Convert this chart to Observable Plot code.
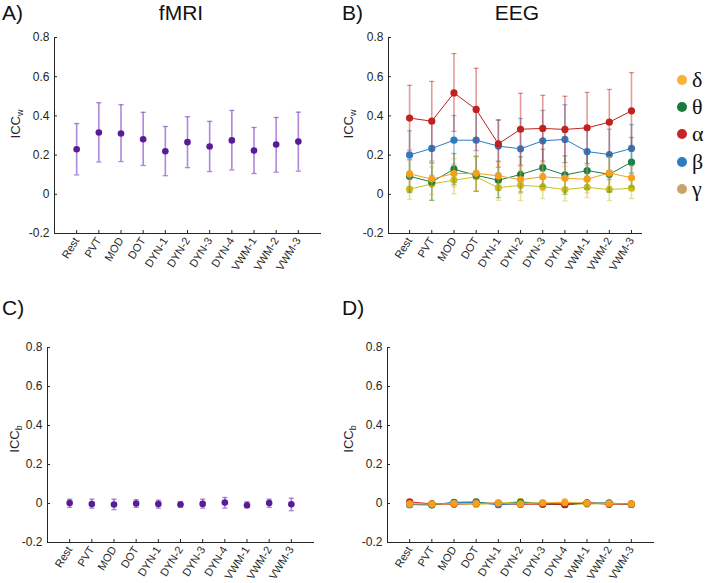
<!DOCTYPE html>
<html><head><meta charset="utf-8">
<script src="https://cdn.jsdelivr.net/npm/d3@7"></script>
<script src="https://cdn.jsdelivr.net/npm/@observablehq/plot@0.6"></script>
<style>
body{margin:0;background:#fff;font-family:"Liberation Sans",Arial,sans-serif;}
#root{position:relative;width:708px;height:583px;overflow:hidden;background:#fff}
#root svg{position:absolute}
.leg{position:absolute;left:0;top:0;}
.li{position:absolute;display:flex;align-items:center;height:26px}
.sw{width:10px;height:10px;border-radius:50%;margin-right:5px}
.gl{font-family:"Liberation Serif","DejaVu Serif",serif;font-size:22px;color:#111;line-height:1}
</style></head>
<body><div id="root"></div>
<script>
const tasks = ["Rest","PVT","MOD","DOT","DYN-1","DYN-2","DYN-3","DYN-4","VWM-1","VWM-2","VWM-3"];
const yTicks = [-0.2,0,0.2,0.4,0.6,0.8];

// A) fMRI ICC_w
const fmriW   = [0.230,0.315,0.310,0.281,0.220,0.266,0.244,0.275,0.223,0.254,0.269];
const fmriWLo = [0.099,0.165,0.167,0.147,0.095,0.136,0.116,0.124,0.106,0.113,0.118];
const fmriWHi = [0.361,0.467,0.457,0.418,0.346,0.396,0.372,0.428,0.341,0.392,0.419];

// B) EEG ICC_w
const eegWAlpha   = [0.389,0.373,0.517,0.433,0.257,0.332,0.336,0.331,0.339,0.368,0.426];
const eegWAlphaLo = [0.225,0.169,0.321,0.223,0.138,0.148,0.169,0.162,0.157,0.199,0.232];
const eegWAlphaHi = [0.556,0.576,0.718,0.643,0.380,0.515,0.505,0.500,0.520,0.535,0.621];
const eegWBeta    = [0.201,0.234,0.276,0.276,0.246,0.232,0.273,0.280,0.218,0.203,0.234];
const eegWBetaLo  = [0.080,0.097,0.148,0.119,0.109,0.078,0.118,0.102,0.092,0.075,0.109];
const eegWBetaHi  = [0.324,0.370,0.402,0.433,0.378,0.387,0.428,0.457,0.344,0.332,0.356];
const eegWTheta   = [0.092,0.063,0.128,0.097,0.072,0.101,0.136,0.099,0.121,0.102,0.164];
const eegWThetaLo = [0.009,-0.031,0.049,0.015,-0.017,0.012,0.041,0.000,0.029,0.012,0.038];
const eegWThetaHi = [0.177,0.160,0.208,0.194,0.169,0.191,0.230,0.196,0.211,0.194,0.290];
const eegWDelta   = [0.104,0.078,0.106,0.107,0.094,0.075,0.089,0.082,0.077,0.109,0.084];
const eegWDeltaLo = [0.030,0.000,0.038,0.017,0.024,0.005,0.019,0.022,0.007,0.040,0.024];
const eegWDeltaHi = [0.175,0.158,0.182,0.194,0.164,0.145,0.159,0.142,0.147,0.190,0.144];
const eegWGamma   = [0.026,0.053,0.072,0.089,0.034,0.046,0.039,0.024,0.036,0.024,0.031];
const eegWGammaLo = [-0.026,-0.031,0.003,0.015,-0.031,-0.032,-0.022,-0.034,-0.017,-0.032,-0.022];
const eegWGammaHi = [0.106,0.140,0.157,0.190,0.106,0.120,0.106,0.089,0.106,0.089,0.106];

// C) fMRI ICC_b
const fmriB   = [0.002,-0.003,-0.005,0.000,-0.003,-0.005,-0.002,0.005,-0.009,0.002,-0.004];
const fmriBLo = [-0.020,-0.024,-0.032,-0.020,-0.024,-0.019,-0.024,-0.024,-0.022,-0.020,-0.037];
const fmriBHi = [0.022,0.022,0.022,0.019,0.017,0.010,0.022,0.031,0.009,0.022,0.027];

// D) EEG ICC_b
const eegBAlpha   = [0.008,-0.002,-0.003,0.000,0.002,-0.004,-0.003,-0.005,0.003,-0.004,-0.002];
const eegBAlphaLo = [-0.004,-0.012,-0.013,-0.010,-0.008,-0.014,-0.013,-0.016,-0.007,-0.014,-0.011];
const eegBAlphaHi = [0.020,0.008,0.007,0.010,0.012,0.006,0.007,0.006,0.013,0.006,0.007];
const eegBBeta    = [-0.006,-0.004,0.004,0.005,-0.006,-0.002,0.002,-0.003,0.003,0.001,-0.003];
const eegBBetaLo  = [-0.017,-0.015,-0.008,-0.007,-0.017,-0.013,-0.010,-0.015,-0.008,-0.010,-0.014];
const eegBBetaHi  = [0.005,0.007,0.016,0.017,0.005,0.009,0.014,0.009,0.014,0.012,0.008];
const eegBTheta   = [-0.005,-0.008,0.006,0.008,-0.004,0.006,-0.004,-0.006,0.002,0.003,-0.005];
const eegBThetaLo = [-0.016,-0.020,-0.006,-0.004,-0.015,-0.008,-0.015,-0.018,-0.010,-0.008,-0.016];
const eegBThetaHi = [0.006,0.004,0.018,0.020,0.007,0.020,0.007,0.006,0.014,0.014,0.006];
const eegBDelta   = [-0.002,-0.003,0.000,0.000,0.002,-0.002,0.003,0.006,0.002,0.000,-0.002];
const eegBDeltaLo = [-0.013,-0.014,-0.012,-0.011,-0.010,-0.013,-0.009,-0.010,-0.009,-0.011,-0.012];
const eegBDeltaHi = [0.010,0.009,0.012,0.011,0.014,0.009,0.015,0.024,0.013,0.011,0.008];
const eegBGamma   = [-0.004,-0.002,-0.002,-0.004,0.000,0.010,0.000,-0.002,-0.003,0.000,-0.005];
const eegBGammaLo = [-0.014,-0.012,-0.013,-0.015,-0.012,-0.003,-0.012,-0.014,-0.014,-0.011,-0.016];
const eegBGammaHi = [0.006,0.008,0.009,0.007,0.012,0.025,0.012,0.010,0.008,0.011,0.006];

const bands = ["δ","θ","α","β","γ"];
const legendColors = ["#f9b233","#1a7a3c","#c4262b","#2f7cc1","#c9a36c"];
const C = {delta:"#f2a01e", theta:"#18803e", alpha:"#c0231f", beta:"#2e7ac2", gamma:"#c8c01e", fmriDot:"#5a1c96", fmriBar:"#8a55c8"};

const root = document.getElementById("root");

const capSymbol = {draw(ctx, size){ const w = Math.sqrt(size/Math.PI); ctx.moveTo(-w,0); ctx.lineTo(w,0); }};
function rows(v, lo, hi){ return v.map((d,i)=>({i:i+1, task:tasks[i], v:d, lo:lo[i], hi:hi[i]})); }
function seriesMarks(data, {color, bar, barOp, dot, line, r}) {
  const m = [
    Plot.ruleX(data, {x:"i", y1:"lo", y2:"hi", stroke: bar, strokeOpacity: barOp, strokeWidth: 1.6}),
    Plot.dot(data, {x:"i", y:"lo", symbol: capSymbol, r: 2.6, stroke: bar, strokeOpacity: barOp, strokeWidth: 1.3, fill:"none"}),
    Plot.dot(data, {x:"i", y:"hi", symbol: capSymbol, r: 2.6, stroke: bar, strokeOpacity: barOp, strokeWidth: 1.3, fill:"none"})
  ];
  if (line) m.push(Plot.line(data, {x:"i", y:"v", stroke: color, strokeWidth: 1}));
  m.push(Plot.dot(data, {x:"i", y:"v", r: r, fill: dot, stroke:"none"}));
  return m;
}
const fmt = d => d === 0 ? "0" : d.toFixed(1);
function panel({left, top, width, height, ml, mr, mt, mb, xdomain, marks}) {
  const xTicks = tasks.map((_,i)=>i+1);
  const p = Plot.plot({
    width, height, marginLeft: ml, marginRight: mr, marginTop: mt, marginBottom: mb,
    style: {fontFamily:"'Liberation Sans', Arial, sans-serif", color:"#262626", background:"transparent", overflow:"visible"},
    x: {domain: xdomain, axis: null},
    y: {domain: [-0.2, 0.8], axis: null},
    marks: [
      // tick marks drawn by the axis itself (currentColor, pointing inward), with labels
      Plot.axisY({ticks: yTicks, tickFormat: fmt, tickSize: -3, tickPadding: 8, label: null, fontSize: 12}),
      Plot.axisX({ticks: xTicks, tickFormat: i => tasks[i-1], tickRotate: -58, tickSize: -3, tickPadding: 8, label: null, fontSize: 11}),
      // axis spines as frame edges in currentColor
      Plot.frame({anchor: "left"}),
      Plot.frame({anchor: "bottom"}),
      ...marks
    ]
  });
  p.style.left = left + "px"; p.style.top = top + "px";
  root.appendChild(p);
}
const eegStyle = (c) => ({color: c, bar: c, barOp: 0.45, dot: c, line: true, r: 3.6});

// A
panel({left:0, top:0, width:354, height:290, ml:54, mr:34, mt:37, mb:57, xdomain:[0,12],
  marks: seriesMarks(rows(fmriW, fmriWLo, fmriWHi), {color:C.fmriDot, bar:C.fmriBar, barOp:0.7, dot:C.fmriDot, line:false, r:3.3})});
// B
panel({left:354, top:0, width:354, height:290, ml:34, mr:67, mt:37, mb:57, xdomain:[0.05,11.45],
  marks: [
    ...seriesMarks(rows(eegWGamma, eegWGammaLo, eegWGammaHi), eegStyle(C.gamma)),
    ...seriesMarks(rows(eegWTheta, eegWThetaLo, eegWThetaHi), eegStyle(C.theta)),
    ...seriesMarks(rows(eegWBeta, eegWBetaLo, eegWBetaHi), eegStyle(C.beta)),
    ...seriesMarks(rows(eegWAlpha, eegWAlphaLo, eegWAlphaHi), eegStyle(C.alpha)),
    ...seriesMarks(rows(eegWDelta, eegWDeltaLo, eegWDeltaHi), eegStyle(C.delta))
  ]});
// C
panel({left:0, top:290, width:354, height:293, ml:47, mr:41, mt:57, mb:41, xdomain:[0,12],
  marks: seriesMarks(rows(fmriB, fmriBLo, fmriBHi), {color:C.fmriDot, bar:C.fmriBar, barOp:0.7, dot:C.fmriDot, line:false, r:3.3})});
// D
panel({left:354, top:290, width:354, height:293, ml:33, mr:55, mt:57, mb:41, xdomain:[0,12],
  marks: [
    ...seriesMarks(rows(eegBGamma, eegBGammaLo, eegBGammaHi), eegStyle(C.gamma)),
    ...seriesMarks(rows(eegBTheta, eegBThetaLo, eegBThetaHi), eegStyle(C.theta)),
    ...seriesMarks(rows(eegBBeta, eegBBetaLo, eegBBetaHi), eegStyle(C.beta)),
    ...seriesMarks(rows(eegBAlpha, eegBAlphaLo, eegBAlphaHi), eegStyle(C.alpha)),
    ...seriesMarks(rows(eegBDelta, eegBDeltaLo, eegBDeltaHi), eegStyle(C.delta))
  ]});

// titles, axis labels and legend on top
const ov = d3.select(root).append("svg").attr("width",708).attr("height",583).style("left","0px").style("top","0px")
  .style("pointer-events","none").style("font-family","'Liberation Sans', Arial, sans-serif").attr("fill","#111");
const titles = [["A)",2,20,"start"],["fMRI",181,20,"middle"],["B)",342,20,"start"],["EEG",517,20,"middle"],
                ["C)",2,315,"start"],["D)",342,315,"start"]];
titles.forEach(([t,x,y,a]) => ov.append("text").attr("x",x).attr("y",y).attr("text-anchor",a).attr("font-size",21).text(t));
const ylabs = [["w",20,124],["w",353,124],["b",19,439],["b",353,439]];
ylabs.forEach(([s,x,y]) => {
  const t = ov.append("text").attr("transform",`translate(${x},${y}) rotate(-90)`).attr("text-anchor","middle").attr("font-size",13).attr("fill","#262626");
  t.append("tspan").text("ICC");
  t.append("tspan").attr("font-size",9).attr("dy",3).text(s);
});
const leg = d3.select(root).append("div").attr("class","leg");
const legY = [80,107,134,162,189];
bands.forEach((b,k) => {
  const it = leg.append("div").attr("class","li").style("left","677px").style("top",(legY[k]-13)+"px");
  it.append("div").attr("class","sw").style("background",legendColors[k]);
  it.append("span").attr("class","gl").text(b);
});
</script></body></html>
